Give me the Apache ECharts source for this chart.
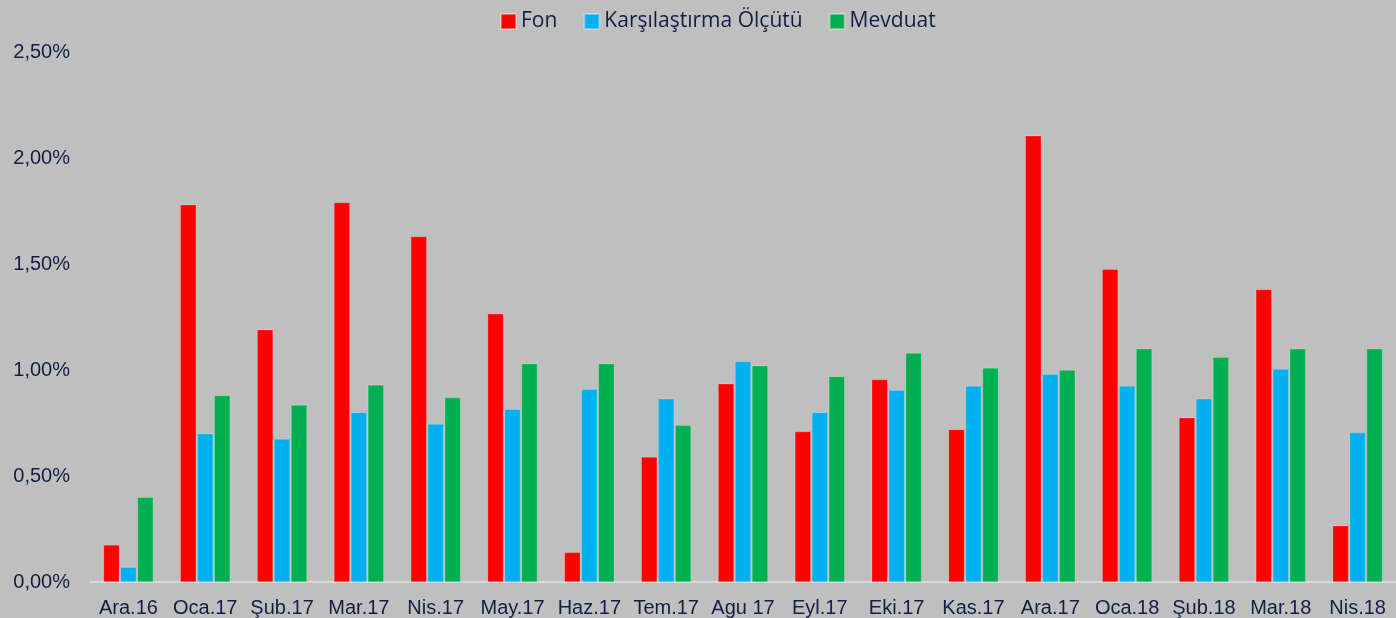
<!DOCTYPE html>
<html>
<head>
<meta charset="utf-8">
<script src="https://cdn.jsdelivr.net/npm/echarts@6/dist/echarts.min.js"></script>
<style>
  html, body { margin: 0; padding: 0; background: #bfbfbf; }
  #chart { width: 1396px; height: 618px; }
</style>
</head>
<body>
<div id="chart"></div>
<script>
// aylar
var months = ['Ara.16', 'Oca.17', 'Şub.17', 'Mar.17', 'Nis.17', 'May.17', 'Haz.17', 'Tem.17', 'Agu 17',
    'Eyl.17', 'Eki.17', 'Kas.17', 'Ara.17', 'Oca.18', 'Şub.18', 'Mar.18', 'Nis.18'];
// aylik getiriler (%)
var fon = [0.175, 1.78, 1.19, 1.79, 1.63, 1.265, 0.14, 0.59, 0.935, 0.71, 0.955, 0.72, 2.105, 1.475, 0.775, 1.38, 0.265];
var olcut = [0.07, 0.70, 0.675, 0.80, 0.745, 0.815, 0.91, 0.865, 1.04, 0.80, 0.905, 0.925, 0.98, 0.925, 0.865, 1.005, 0.705];
var mevduat = [0.40, 0.88, 0.835, 0.93, 0.87, 1.03, 1.03, 0.74, 1.02, 0.97, 1.08, 1.01, 1.00, 1.10, 1.06, 1.10, 1.10];
var yTicks = [0, 0.5, 1, 1.5, 2, 2.5];

var textColor = '#0f1f45';

function pct(v) {
    return v.toFixed(2).replace('.', ',') + '%';
}

var myChart = echarts.init(document.getElementById('chart'));

function barSeries(name, data, color) {
    return {
        name: name,
        type: 'bar',
        data: data,
        barWidth: 16,
        barGap: '6%',
        itemStyle: { color: color, borderColor: 'rgba(255,255,255,0.35)', borderWidth: 0.6 },
        emphasis: { disabled: true }
    };
}

var option = {
    backgroundColor: '#bfbfbf',
    animation: false,
    legend: {
        top: 6,
        left: 495,
        itemWidth: 15,
        itemHeight: 15,
        itemGap: 26,
        icon: 'rect',
        textStyle: { color: textColor, fontSize: 21, fontFamily: 'Open Sans' },
        data: ['Fon', 'Karşılaştırma Ölçütü', 'Mevduat']
    },
    grid: {
        left: 90,
        top: 52,
        bottom: 36,
        width: 1317.5,
        containLabel: false
    },
    xAxis: {
        type: 'category',
        data: months,
        axisLine: { show: true, lineStyle: { color: '#d9d9d9', width: 2 } },
        axisTick: { show: false },
        axisLabel: { color: textColor, fontSize: 20, fontFamily: 'Liberation Sans', margin: 16, interval: 0 }
    },
    yAxis: {
        type: 'value',
        min: 0,
        max: 2.5,
        interval: 0.5,
        splitLine: { show: false },
        axisLine: { show: false },
        axisTick: { show: false },
        axisLabel: {
            color: textColor, fontSize: 20, fontFamily: 'Liberation Sans', margin: 20,
            formatter: function (v) { return yTicks.indexOf(v) >= 0 ? pct(v) : ''; }
        }
    },
    series: [
        barSeries('Fon', fon, '#ff0000'),
        barSeries('Karşılaştırma Ölçütü', olcut, '#00b0f0'),
        barSeries('Mevduat', mevduat, '#00b050')
    ]
};

myChart.setOption(option);
</script>
</body>
</html>
